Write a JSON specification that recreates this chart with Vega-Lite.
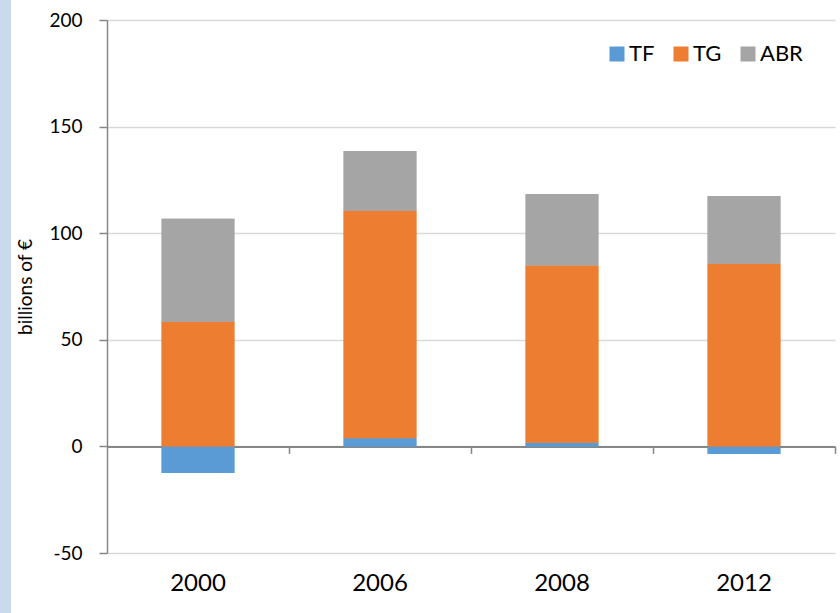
{
  "$schema": "https://vega.github.io/schema/vega-lite/v6.json",
  "autosize": {"type": "none"},
  "width": 728,
  "height": 533,
  "padding": {"left": 107, "top": 20, "right": 5, "bottom": 60},
  "background": "#cbd9ec",
  "config": {
    "view": {"stroke": "white", "strokeWidth": 192, "fill": "white"},
    "font": "Lato",
    "axis": {"labelColor": "#000000", "titleColor": "#000000", "labelFont": "Lato", "titleFont": "Lato"},
    "legend": {"labelFont": "Lato"}
  },
  "data": {
    "values": [
      {"year": "2000", "series": "TF", "ord": 1, "value": -12.5},
      {"year": "2000", "series": "TG", "ord": 2, "value": 58.5},
      {"year": "2000", "series": "ABR", "ord": 3, "value": 48.3},
      {"year": "2006", "series": "TF", "ord": 1, "value": 3.8},
      {"year": "2006", "series": "TG", "ord": 2, "value": 106.7},
      {"year": "2006", "series": "ABR", "ord": 3, "value": 28.1},
      {"year": "2008", "series": "TF", "ord": 1, "value": 1.7},
      {"year": "2008", "series": "TG", "ord": 2, "value": 83.1},
      {"year": "2008", "series": "ABR", "ord": 3, "value": 33.6},
      {"year": "2012", "series": "TF", "ord": 1, "value": -3.6},
      {"year": "2012", "series": "TG", "ord": 2, "value": 85.7},
      {"year": "2012", "series": "ABR", "ord": 3, "value": 31.7}
    ]
  },
  "encoding": {
    "y": {
      "field": "value",
      "type": "quantitative",
      "stack": "zero",
      "scale": {"domain": [-50, 200], "nice": false, "zero": false},
      "axis": {
        "title": "billions of €",
        "titleFontSize": 19,
        "titleFontWeight": "normal",
        "titlePadding": 13,
        "values": [-50, 0, 50, 100, 150, 200],
        "labelExpr": "'' + datum.value",
        "labelFontSize": 19,
        "labelPadding": 17,
        "tickSize": 8,
        "tickColor": "#868686",
        "tickWidth": 1.5,
        "domainColor": "#868686",
        "domainWidth": 1.5,
        "gridColor": "#d9d9d9",
        "gridWidth": 1.5
      }
    },
    "color": {
      "field": "series",
      "type": "nominal",
      "scale": {"domain": ["TF", "TG", "ABR"], "range": ["#5b9bd5", "#ed7d31", "#a5a5a5"]},
      "legend": {
        "title": null,
        "orient": "none",
        "direction": "horizontal",
        "legendX": 499,
        "legendY": 23,
        "padding": 0,
        "symbolType": "square",
        "symbolSize": 225,
        "symbolStrokeWidth": 0,
        "symbolOpacity": 1,
        "labelFontSize": 22,
        "labelOffset": 1,
        "columnPadding": 15,
        "labelColor": "#000000"
      }
    },
    "order": {"field": "ord", "type": "quantitative"}
  },
  "layer": [
    {
      "mark": {"type": "bar"},
      "encoding": {
        "x": {
          "field": "year",
          "type": "nominal",
          "scale": {"paddingInner": 0.6, "paddingOuter": 0.3},
          "axis": {
            "title": null,
            "orient": "bottom",
            "labelAngle": 0,
            "labelFontSize": 24,
            "labelPadding": 125,
            "offset": -106.6,
            "domain": false,
            "ticks": false,
            "tickSize": 7,
            "grid": false
          }
        }
      }
    },
    {
      "mark": {"type": "bar"},
      "encoding": {
        "x": {
          "field": "year",
          "type": "nominal",
          "axis": {
            "title": null,
            "orient": "bottom",
            "labels": false,
            "offset": -106.6,
            "domainColor": "#868686",
            "domainWidth": 2,
            "tickColor": "#868686",
            "tickWidth": 1.5,
            "tickSize": 7,
            "tickOffset": 91,
            "grid": false
          }
        }
      }
    }
  ],
  "resolve": {"axis": {"x": "independent"}}
}
